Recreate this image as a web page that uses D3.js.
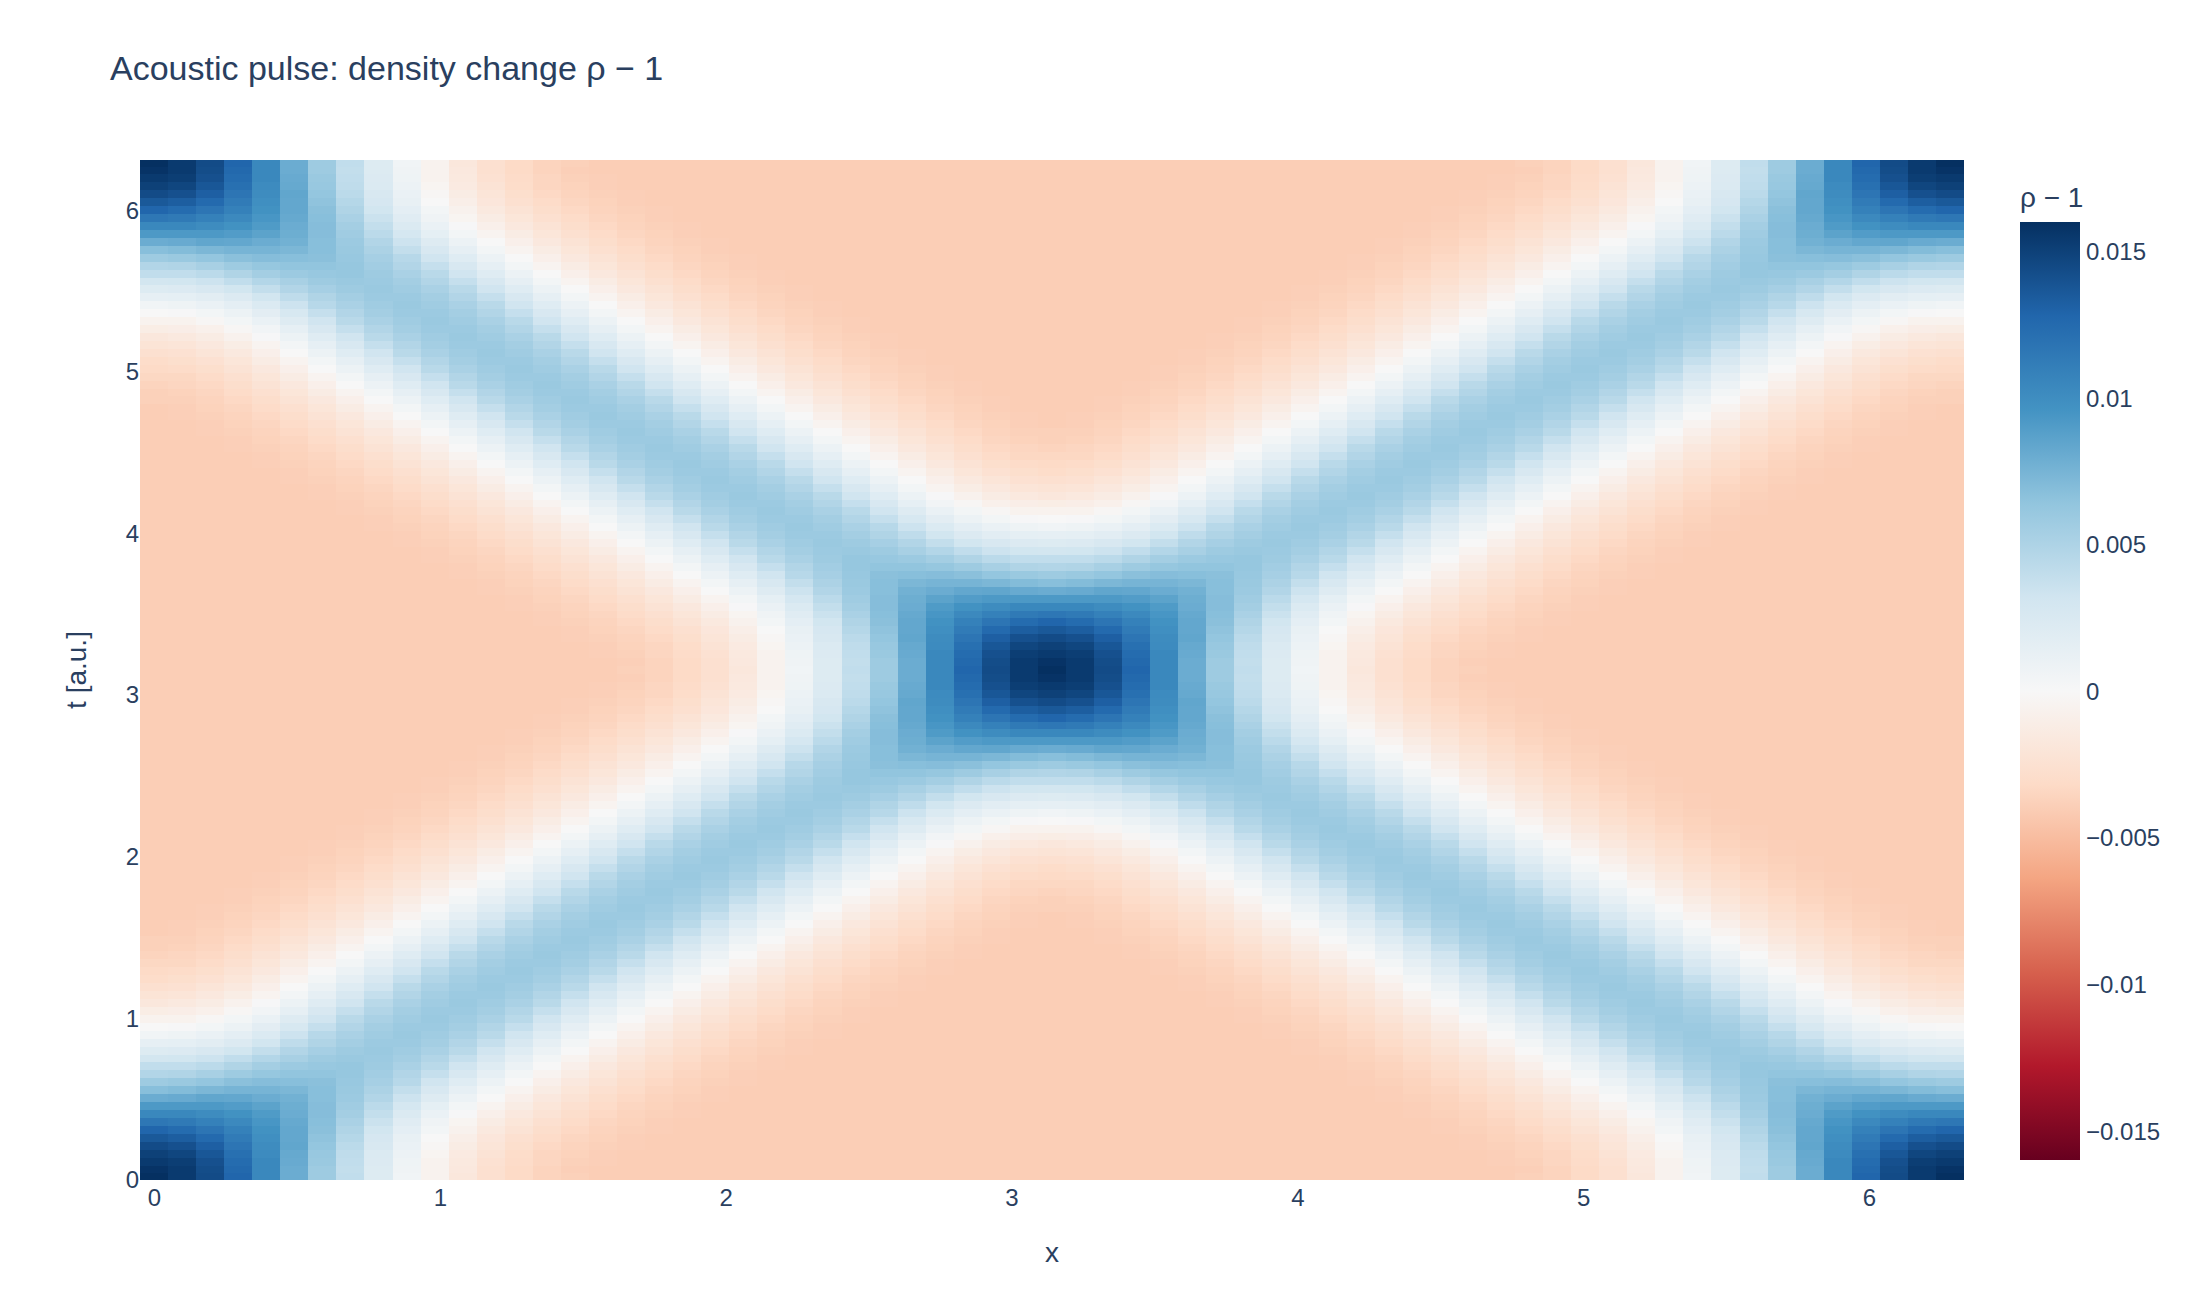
<!DOCTYPE html>
<html>
<head>
<meta charset="utf-8">
<script src="https://cdn.jsdelivr.net/npm/d3@7"></script>
<style>
  body { margin: 0; background: #fff; }
  text { font-family: "Liberation Sans", Arial, sans-serif; fill: #2a3f5f; }
</style>
</head>
<body>
<div id="container"></div>
<script>
// Ticks and labels
const xTicks = [0, 1, 2, 3, 4, 5, 6];
const tTicks = [0, 1, 2, 3, 4, 5, 6];
const colorTicks = [-0.015, -0.01, -0.005, 0, 0.005, 0.01, 0.015];
const titleText = "Acoustic pulse: density change ρ − 1";
const xLabel = "x";
const tLabel = "t [a.u.]";
const colorLabel = "ρ − 1";

// RdBu colorscale
const colorValues = [-0.016, -0.0128, -0.0096, -0.0064, -0.0032, 0, 0.0032, 0.0064, 0.0096, 0.0128, 0.016];
const colorHex = ["#67001f", "#b2182b", "#d6604d", "#f4a582", "#fddbc7", "#f7f7f7", "#d1e5f0", "#92c5de", "#4393c3", "#2166ac", "#053061"];

// Values, in units of 1e-4.
// Rows go from t = pi down to t = pi/2 in half column steps,
// columns go from x = pi out to x = 0. The rest of the grid is its mirror image.
const densityRows = [
  [160,154,144,128,104,80,58,40,22,6,-6,-18,-26,-32,-36,-38,-40,-40,-40,-40,-40,-40,-40,-40,-40,-40,-40,-40,-40,-40,-40,-40,-40],
  [158,154,143,126,104,80,58,39,22,7,-6,-17,-26,-32,-36,-39,-40,-40,-40,-40,-40,-40,-40,-40,-40,-40,-40,-40,-40,-40,-40,-40,-40],
  [154,152,141,124,104,81,60,40,23,8,-6,-16,-25,-31,-35,-38,-39,-40,-40,-40,-40,-40,-40,-40,-40,-40,-40,-40,-40,-40,-40,-40,-40],
  [150,147,137,121,102,82,61,41,24,9,-4,-15,-23,-30,-35,-37,-39,-40,-40,-40,-40,-40,-40,-40,-40,-40,-40,-40,-40,-40,-40,-40,-40],
  [144,141,132,117,101,84,63,43,26,11,-2,-13,-21,-28,-33,-36,-38,-39,-40,-40,-40,-40,-40,-40,-40,-40,-40,-40,-40,-40,-40,-40,-40],
  [136,133,125,113,99,83,65,46,28,13,0,-10,-19,-26,-31,-35,-37,-39,-40,-40,-40,-40,-40,-40,-40,-40,-40,-40,-40,-40,-40,-40,-40],
  [128,124,117,109,97,83,67,49,31,16,4,-7,-16,-23,-29,-33,-36,-38,-39,-40,-40,-40,-40,-40,-40,-40,-40,-40,-40,-40,-40,-40,-40],
  [116,114,109,103,94,82,68,52,35,19,7,-4,-13,-20,-26,-31,-35,-37,-39,-40,-40,-40,-40,-40,-40,-40,-40,-40,-40,-40,-40,-40,-40],
  [104,104,101,97,91,80,69,55,39,24,11,1,-9,-17,-23,-29,-33,-36,-38,-39,-40,-40,-40,-40,-40,-40,-40,-40,-40,-40,-40,-40,-40],
  [92,92,92,90,86,79,69,57,43,29,15,4,-5,-13,-20,-26,-31,-35,-37,-39,-40,-40,-40,-40,-40,-40,-40,-40,-40,-40,-40,-40,-40],
  [80,81,84,83,80,77,68,59,48,34,21,9,0,-9,-17,-23,-29,-33,-36,-38,-39,-40,-40,-40,-40,-40,-40,-40,-40,-40,-40,-40,-40],
  [68,70,73,75,75,73,68,60,51,39,26,14,4,-5,-13,-20,-26,-31,-35,-37,-39,-40,-40,-40,-40,-40,-40,-40,-40,-40,-40,-40,-40],
  [58,60,63,67,69,68,67,61,54,45,32,20,9,0,-9,-17,-23,-29,-33,-36,-38,-39,-40,-40,-40,-40,-40,-40,-40,-40,-40,-40,-40],
  [48,49,53,58,62,64,64,62,56,48,38,26,14,4,-5,-13,-20,-26,-31,-35,-37,-39,-40,-40,-40,-40,-40,-40,-40,-40,-40,-40,-40],
  [40,40,43,49,55,59,61,62,58,52,44,32,20,9,0,-9,-17,-23,-29,-33,-36,-38,-39,-40,-40,-40,-40,-40,-40,-40,-40,-40,-40],
  [30,31,34,40,47,53,58,60,59,55,48,38,26,14,4,-5,-13,-20,-26,-31,-35,-37,-39,-40,-40,-40,-40,-40,-40,-40,-40,-40,-40],
  [22,23,26,31,39,48,54,58,60,57,52,44,32,20,9,0,-9,-17,-23,-29,-33,-36,-38,-39,-40,-40,-40,-40,-40,-40,-40,-40,-40],
  [14,15,18,23,31,41,49,55,59,59,55,48,38,26,14,4,-5,-13,-20,-26,-31,-35,-37,-39,-40,-40,-40,-40,-40,-40,-40,-40,-40],
  [6,8,11,16,24,34,45,52,57,60,57,52,44,32,20,9,0,-9,-17,-23,-29,-33,-36,-38,-39,-40,-40,-40,-40,-40,-40,-40,-40],
  [0,1,4,9,17,27,38,48,55,59,59,55,48,38,26,14,4,-5,-13,-20,-26,-31,-35,-37,-39,-40,-40,-40,-40,-40,-40,-40,-40],
  [-6,-6,-2,4,11,21,32,44,52,57,60,57,52,44,32,20,9,0,-9,-17,-23,-29,-33,-36,-38,-39,-40,-40,-40,-40,-40,-40,-40],
  [-12,-11,-8,-2,5,14,26,38,48,55,59,59,55,48,38,26,14,4,-5,-13,-20,-26,-31,-35,-37,-39,-40,-40,-40,-40,-40,-40,-40],
  [-18,-16,-13,-7,1,9,20,32,44,52,57,60,57,52,44,32,20,9,0,-9,-17,-23,-29,-33,-36,-38,-39,-40,-40,-40,-40,-40,-40],
  [-22,-21,-17,-12,-5,4,14,26,38,48,55,59,59,55,48,38,26,14,4,-5,-13,-20,-26,-31,-35,-37,-39,-40,-40,-40,-40,-40,-40],
  [-26,-25,-21,-16,-9,0,9,20,32,44,52,57,60,57,52,44,32,20,9,0,-9,-17,-23,-29,-33,-36,-38,-39,-40,-40,-40,-40,-40],
  [-30,-28,-25,-20,-13,-5,4,14,26,38,48,55,59,59,55,48,38,26,14,4,-5,-13,-20,-26,-31,-35,-37,-39,-40,-40,-40,-40,-40],
  [-32,-31,-28,-23,-17,-9,0,9,20,32,44,52,57,60,57,52,44,32,20,9,0,-9,-17,-23,-29,-33,-36,-38,-39,-40,-40,-40,-40],
  [-34,-34,-31,-26,-20,-13,-5,4,14,26,38,48,55,59,59,55,48,38,26,14,4,-5,-13,-20,-26,-31,-35,-37,-39,-40,-40,-40,-40],
  [-36,-35,-33,-29,-23,-17,-9,0,9,20,32,44,52,57,60,57,52,44,32,20,9,0,-9,-17,-23,-29,-33,-36,-38,-39,-40,-40,-40],
  [-38,-37,-35,-31,-26,-20,-13,-5,4,14,26,38,48,55,59,59,55,48,38,26,14,4,-5,-13,-20,-26,-31,-35,-37,-39,-40,-40,-40],
  [-38,-38,-36,-33,-29,-23,-17,-9,0,9,20,32,44,52,57,60,57,52,44,32,20,9,0,-9,-17,-23,-29,-33,-36,-38,-39,-40,-40],
  [-40,-39,-37,-35,-31,-26,-20,-13,-5,4,14,26,38,48,55,59,59,55,48,38,26,14,4,-5,-13,-20,-26,-31,-35,-37,-39,-40,-40],
  [-40,-39,-38,-36,-33,-29,-23,-17,-9,0,9,20,32,44,52,57,60,57,52,44,32,20,9,0,-9,-17,-23,-29,-33,-36,-38,-39,-40]
];

// Grid size: 65 columns and 129 rows over one period
const nCols = 65, nRows = 129;
const dx = 2 * Math.PI / (nCols - 1);
const dt = 2 * Math.PI / (nRows - 1);

// The t axis runs slightly past 0 and 2 pi
const tPad = 0.0157;
const tMin = -tPad, tMax = 2 * Math.PI + tPad;

// Unfold the stored rows into the full grid
function cellValue(col, row) {
  const i = Math.abs(col - 32);
  const n = Math.abs(row - 64);
  const v = n <= 32 ? densityRows[n][i] : densityRows[64 - n][32 - i];
  return v * 1e-4;
}

const cells = [];
d3.range(nRows).forEach(row => {
  d3.range(nCols).forEach(col => {
    // first and last rows reach the edge of the plot
    const t0 = row === 0 ? tMin : (row - 0.5) * dt;
    const t1 = row === nRows - 1 ? tMax : (row + 0.5) * dt;
    cells.push({ x: col * dx, t0, t1, value: cellValue(col, row) });
  });
});

// Dimensions
const width = 2200, height = 1300;
const plot = { left: 140, right: 1964, top: 160, bottom: 1180 };
const bar = { left: 2020, right: 2080, top: 222, bottom: 1160 };

const svg = d3.select("#container")
  .append("svg")
  .attr("width", width)
  .attr("height", height)
  .style("display", "block");

// Scales
const xScale = d3.scaleLinear()
  .domain([-dx / 2, 2 * Math.PI + dx / 2])
  .range([plot.left, plot.right]);

const tScale = d3.scaleLinear()
  .domain([tMin, tMax])
  .range([plot.bottom, plot.top]);

const colorScale = d3.scaleLinear()
  .domain(colorValues)
  .range(colorHex)
  .clamp(true);

const barScale = d3.scaleLinear()
  .domain([-0.016, 0.016])
  .range([bar.bottom, bar.top]);

// Heatmap cells
svg.append("g")
  .attr("shape-rendering", "crispEdges")
  .selectAll("rect")
  .data(cells)
  .join("rect")
  .attr("x", d => xScale(d.x - dx / 2))
  .attr("width", xScale(dx) - xScale(0))
  .attr("y", d => tScale(d.t1))
  .attr("height", d => tScale(d.t0) - tScale(d.t1))
  .attr("fill", d => colorScale(d.value));

// Axes
const xAxis = svg.append("g")
  .attr("transform", `translate(0,${plot.bottom})`)
  .call(d3.axisBottom(xScale).tickValues(xTicks).tickSize(0).tickPadding(0).tickFormat(d3.format("d")));

const tAxis = svg.append("g")
  .attr("transform", `translate(${plot.left},0)`)
  .call(d3.axisLeft(tScale).tickValues(tTicks).tickSize(0).tickPadding(1).tickFormat(d3.format("d")));

// Colorbar
const defs = svg.append("defs");
const gradient = defs.append("linearGradient")
  .attr("id", "colorbar-gradient")
  .attr("x1", 0).attr("x2", 0).attr("y1", 1).attr("y2", 0);

gradient.selectAll("stop")
  .data(colorValues)
  .join("stop")
  .attr("offset", d => (d + 0.016) / 0.032)
  .attr("stop-color", d => colorScale(d));

svg.append("rect")
  .attr("x", bar.left)
  .attr("y", bar.top)
  .attr("width", bar.right - bar.left)
  .attr("height", bar.bottom - bar.top)
  .attr("fill", "url(#colorbar-gradient)");

const barAxis = svg.append("g")
  .attr("transform", `translate(${bar.right},0)`)
  .call(d3.axisRight(barScale).tickValues(colorTicks).tickSize(0).tickPadding(6).tickFormat(d3.format("~g")));

// Tick label styling
[xAxis, tAxis, barAxis].forEach(axis => {
  axis.select(".domain").remove();
  axis.selectAll("text").style("font-size", "24px").attr("fill", null);
  axis.attr("font-family", null).attr("font-size", null);
});
xAxis.selectAll("text").attr("dy", "1.08em").attr("y", 0);
tAxis.selectAll("text").attr("dy", "0.42em");
barAxis.selectAll("text").attr("dy", "0.35em");

// Titles
svg.append("text")
  .attr("x", 110)
  .attr("y", 80)
  .style("font-size", "34px")
  .text(titleText);

svg.append("text")
  .attr("x", (plot.left + plot.right) / 2)
  .attr("y", 1262)
  .attr("text-anchor", "middle")
  .style("font-size", "28px")
  .text(xLabel);

svg.append("text")
  .attr("transform", `translate(86,${(plot.top + plot.bottom) / 2}) rotate(-90)`)
  .attr("text-anchor", "middle")
  .style("font-size", "28px")
  .text(tLabel);

svg.append("text")
  .attr("x", bar.left)
  .attr("y", 207)
  .style("font-size", "28px")
  .text(colorLabel);
</script>
</body>
</html>
